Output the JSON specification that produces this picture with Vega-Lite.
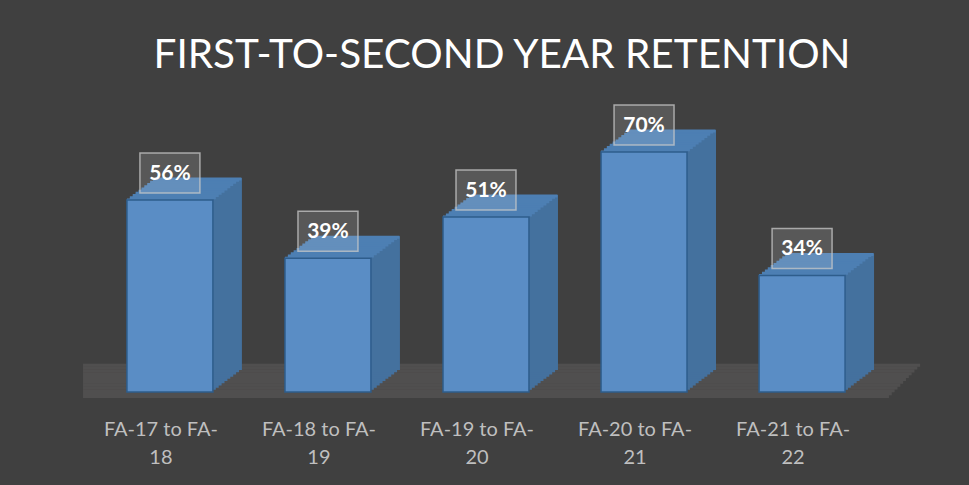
{
  "$schema": "https://vega.github.io/schema/vega-lite/v6.json",
  "width": 806,
  "height": 281.3,
  "autosize": "none",
  "padding": {"left": 83, "top": 117.6, "right": 80, "bottom": 86},
  "background": "#404040",
  "config": {"view": {"stroke": null}},
  "title": {
    "text": "FIRST-TO-SECOND YEAR RETENTION",
    "color": "#ffffff",
    "font": "Lato",
    "fontSize": 40.5,
    "fontWeight": "normal",
    "anchor": "middle",
    "offset": 25,
    "dx": 16
  },
  "layer": [
    {"data": {"values": [{}]}, "mark": {"type": "rect", "color": "#504f4f", "xOffset": 0, "x2Offset": -16}, "encoding": {"y": {"datum": -0.0175, "type": "quantitative", "axis": null}, "y2": {"datum": -0.0085}}},
    {"data": {"values": [{}]}, "mark": {"type": "rect", "color": "#504f4f", "xOffset": 2.83, "x2Offset": -12.33}, "encoding": {"y": {"datum": -0.0092, "type": "quantitative", "axis": null}, "y2": {"datum": -0.0002}}},
    {"data": {"values": [{}]}, "mark": {"type": "rect", "color": "#504f4f", "xOffset": 5.66, "x2Offset": -8.66}, "encoding": {"y": {"datum": -0.0009, "type": "quantitative", "axis": null}, "y2": {"datum": 0.0081}}},
    {"data": {"values": [{}]}, "mark": {"type": "rect", "color": "#504f4f", "xOffset": 8.49, "x2Offset": -4.99}, "encoding": {"y": {"datum": 0.0074, "type": "quantitative", "axis": null}, "y2": {"datum": 0.0164}}},
    {"data": {"values": [{}]}, "mark": {"type": "rect", "color": "#504f4f", "xOffset": 11.32, "x2Offset": -1.32}, "encoding": {"y": {"datum": 0.0157, "type": "quantitative", "axis": null}, "y2": {"datum": 0.0247}}},
    {"data": {"values": [{}]}, "mark": {"type": "rect", "color": "#504f4f", "xOffset": 14.15, "x2Offset": 2.35}, "encoding": {"y": {"datum": 0.024, "type": "quantitative", "axis": null}, "y2": {"datum": 0.033}}},
    {"data": {"values": [{}]}, "mark": {"type": "rect", "color": "#504f4f", "xOffset": 16.98, "x2Offset": 6.02}, "encoding": {"y": {"datum": 0.0323, "type": "quantitative", "axis": null}, "y2": {"datum": 0.0413}}},
    {"data": {"values": [{}]}, "mark": {"type": "rect", "color": "#504f4f", "xOffset": 19.81, "x2Offset": 9.69}, "encoding": {"y": {"datum": 0.0406, "type": "quantitative", "axis": null}, "y2": {"datum": 0.0496}}},
    {"data": {"values": [{}]}, "mark": {"type": "rect", "color": "#504f4f", "xOffset": 22.64, "x2Offset": 13.36}, "encoding": {"y": {"datum": 0.0489, "type": "quantitative", "axis": null}, "y2": {"datum": 0.0579}}},
    {"data": {"values": [{}]}, "mark": {"type": "rect", "color": "#504f4f", "xOffset": 25.47, "x2Offset": 17.03}, "encoding": {"y": {"datum": 0.0572, "type": "quantitative", "axis": null}, "y2": {"datum": 0.0662}}},
    {"data": {"values": [{}]}, "mark": {"type": "rect", "color": "#504f4f", "xOffset": 28.3, "x2Offset": 20.7}, "encoding": {"y": {"datum": 0.0655, "type": "quantitative", "axis": null}, "y2": {"datum": 0.0745}}},
    {"data": {"values": [{}]}, "mark": {"type": "rect", "color": "#504f4f", "xOffset": 31.13, "x2Offset": 24.37}, "encoding": {"y": {"datum": 0.0738, "type": "quantitative", "axis": null}, "y2": {"datum": 0.0821}}},
    {
      "data": {"values": [
        {"period": "FA-17 to FA-18", "retention": 0.56},
        {"period": "FA-18 to FA-19", "retention": 0.39},
        {"period": "FA-19 to FA-20", "retention": 0.51},
        {"period": "FA-20 to FA-21", "retention": 0.70},
        {"period": "FA-21 to FA-22", "retention": 0.34}
      ]},
      "encoding": {
        "x": {
          "field": "period",
          "type": "nominal",
          "sort": null,
          "scale": {"paddingInner": 0.456, "paddingOuter": 0.278},
          "axis": {
            "title": null,
            "domain": false,
            "ticks": false,
            "labelAngle": 0,
            "labelFont": "Lato",
            "labelFontSize": 20,
            "labelColor": "#bfbfbf",
            "labelPadding": 21,
            "labelOffset": -9,
            "labelLineHeight": 28,
            "labelExpr": "[slice(datum.value, 0, 12), slice(datum.value, 12)]"
          }
        },
        "y": {
          "field": "retention",
          "type": "quantitative",
          "scale": {"domain": [-0.02, 0.8], "nice": false, "zero": false},
          "axis": null
        }
      },
      "layer": [
        {"mark": {"type": "bar", "color": "#44719e", "xOffset": 2.9, "x2Offset": 2.9, "yOffset": -2.2, "y2Offset": -2.2}},
        {"mark": {"type": "bar", "color": "#44719e", "xOffset": 5.8, "x2Offset": 5.8, "yOffset": -4.4, "y2Offset": -4.4}},
        {"mark": {"type": "bar", "color": "#44719e", "xOffset": 8.7, "x2Offset": 8.7, "yOffset": -6.6, "y2Offset": -6.6}},
        {"mark": {"type": "bar", "color": "#44719e", "xOffset": 11.6, "x2Offset": 11.6, "yOffset": -8.8, "y2Offset": -8.8}},
        {"mark": {"type": "bar", "color": "#44719e", "xOffset": 14.5, "x2Offset": 14.5, "yOffset": -11, "y2Offset": -11}},
        {"mark": {"type": "bar", "color": "#44719e", "xOffset": 17.4, "x2Offset": 17.4, "yOffset": -13.2, "y2Offset": -13.2}},
        {"mark": {"type": "bar", "color": "#44719e", "xOffset": 20.3, "x2Offset": 20.3, "yOffset": -15.4, "y2Offset": -15.4}},
        {"mark": {"type": "bar", "color": "#44719e", "xOffset": 23.2, "x2Offset": 23.2, "yOffset": -17.6, "y2Offset": -17.6}},
        {"mark": {"type": "bar", "color": "#44719e", "xOffset": 26.1, "x2Offset": 26.1, "yOffset": -19.8, "y2Offset": -19.8}},
        {"mark": {"type": "bar", "color": "#44719e", "xOffset": 29, "x2Offset": 29, "yOffset": -22, "y2Offset": -22}},
        {"mark": {"type": "tick", "color": "#4d7fb3", "size": 86, "thickness": 3, "opacity": 1, "xOffset": 0, "yOffset": 0}},
        {"mark": {"type": "tick", "color": "#4d7fb3", "size": 86, "thickness": 3, "opacity": 1, "xOffset": 2.9, "yOffset": -2.2}},
        {"mark": {"type": "tick", "color": "#4d7fb3", "size": 86, "thickness": 3, "opacity": 1, "xOffset": 5.8, "yOffset": -4.4}},
        {"mark": {"type": "tick", "color": "#4d7fb3", "size": 86, "thickness": 3, "opacity": 1, "xOffset": 8.7, "yOffset": -6.6}},
        {"mark": {"type": "tick", "color": "#4d7fb3", "size": 86, "thickness": 3, "opacity": 1, "xOffset": 11.6, "yOffset": -8.8}},
        {"mark": {"type": "tick", "color": "#4d7fb3", "size": 86, "thickness": 3, "opacity": 1, "xOffset": 14.5, "yOffset": -11}},
        {"mark": {"type": "tick", "color": "#4d7fb3", "size": 86, "thickness": 3, "opacity": 1, "xOffset": 17.4, "yOffset": -13.2}},
        {"mark": {"type": "tick", "color": "#4d7fb3", "size": 86, "thickness": 3, "opacity": 1, "xOffset": 20.3, "yOffset": -15.4}},
        {"mark": {"type": "tick", "color": "#4d7fb3", "size": 86, "thickness": 3, "opacity": 1, "xOffset": 23.2, "yOffset": -17.6}},
        {"mark": {"type": "tick", "color": "#4d7fb3", "size": 86, "thickness": 3, "opacity": 1, "xOffset": 26.1, "yOffset": -19.8}},
        {"mark": {"type": "tick", "color": "#4d7fb3", "size": 86, "thickness": 3, "opacity": 1, "xOffset": 28.5, "yOffset": -21}},
        {"mark": {"type": "bar", "fill": "#5a8dc5", "stroke": "#2e5d8c", "strokeWidth": 1.5}},
        {"mark": {"type": "point", "shape": "M-1.5,-1L1.5,-1L1.5,1L-1.5,1Z", "size": 1600, "filled": true, "fill": "#ffffff", "fillOpacity": 0.13, "stroke": "#c8c8c8", "strokeOpacity": 0.75, "strokeWidth": 1.5, "opacity": 1, "yOffset": -27}},
        {"mark": {"type": "text", "color": "#ffffff", "font": "Lato", "fontWeight": "bold", "fontSize": 21, "baseline": "middle", "align": "center", "yOffset": -26}, "encoding": {"text": {"field": "retention", "type": "quantitative", "format": ".0%"}}}
      ]
    }
  ]
}
